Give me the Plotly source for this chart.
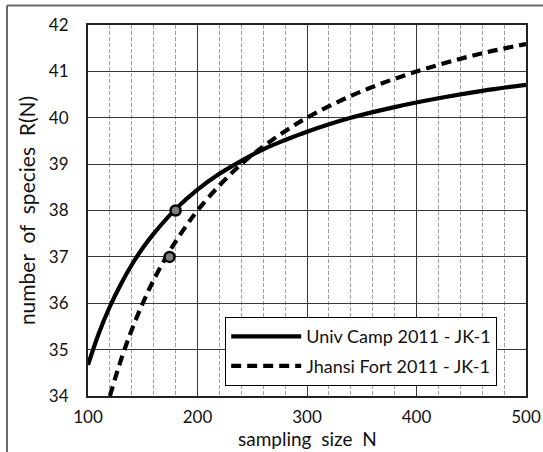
import plotly.graph_objects as go

# Data
univ_N = [100, 110, 120, 130, 140, 150, 160, 180, 200, 220, 240, 260, 280, 300, 340, 380, 420, 460, 500]
univ_R = [34.67, 35.36, 35.93, 36.41, 36.83, 37.19, 37.50, 38.03, 38.45, 38.79, 39.07, 39.32, 39.52, 39.70, 40.00, 40.23, 40.42, 40.58, 40.71]

jhansi_N = [120, 130, 140, 150, 160, 175, 190, 200, 220, 240, 260, 280, 300, 340, 380, 420, 460, 500]
jhansi_R = [34.00, 34.77, 35.43, 36.00, 36.50, 37.14, 37.68, 38.00, 38.54, 39.00, 39.38, 39.71, 40.00, 40.47, 40.84, 41.14, 41.39, 41.59]

marker_N = [180, 174.5]
marker_R = [38.0, 37.0]

series_names = ["Univ Camp 2011 - JK-1", "Jhansi Fort 2011 - JK-1"]
x_ticks = [100, 200, 300, 400, 500]
y_ticks = [34, 35, 36, 37, 38, 39, 40, 41, 42]
x_title = "sampling\u00a0 size\u00a0 N"
y_title = "number\u00a0 of\u00a0 species\u00a0 R(N)"

FONT = "Lato"

fig = go.Figure()
fig.add_trace(go.Scatter(x=univ_N, y=univ_R, mode="lines", name=series_names[0], legendgroup="a",
                         line=dict(color="black", width=4.2, shape="spline")))
fig.add_trace(go.Scatter(x=jhansi_N, y=jhansi_R, mode="lines", name=series_names[1], legendgroup="b",
                         line=dict(color="black", width=4.2, dash="10px,6px", shape="spline")))
fig.add_trace(go.Scatter(x=marker_N, y=marker_R, mode="markers", showlegend=False,
                         marker=dict(size=10, color="#808080", line=dict(color="black", width=2.5))))

L, R, T, B = 88, 17, 25, 56
W, H = 543, 452
pw, ph = W - L - R, H - T - B

def px_to_paper_x(px):
    return (px - L) / pw

def py_to_paper_y(py):
    return (H - B - py) / ph

fig.update_layout(
    width=W, height=H,
    margin=dict(l=L, r=R, t=T, b=B),
    paper_bgcolor="white", plot_bgcolor="white",
    font=dict(family=FONT, color="#111111"),
    showlegend=True,
    legend=dict(x=px_to_paper_x(225), y=py_to_paper_y(317), xanchor="left", yanchor="top",
                bgcolor="white", bordercolor="black", borderwidth=1.2,
                font=dict(family=FONT, size=18, color="#111111"),
                itemwidth=70, traceorder="grouped", tracegroupgap=3),
    shapes=[
        dict(type="line", xref="paper", yref="paper",
             x0=px_to_paper_x(7), x1=px_to_paper_x(543), y0=py_to_paper_y(5.5), y1=py_to_paper_y(5.5),
             line=dict(color="#6a6a6a", width=2)),
        dict(type="line", xref="paper", yref="paper",
             x0=px_to_paper_x(7), x1=px_to_paper_x(7), y0=py_to_paper_y(5.5), y1=py_to_paper_y(452),
             line=dict(color="#6a6a6a", width=2)),
    ],
    annotations=[
        dict(text=x_title, xref="paper", yref="paper", x=0.5, y=py_to_paper_y(451),
             xanchor="center", yanchor="bottom", showarrow=False, borderpad=0,
             font=dict(family=FONT, size=19, color="#111111")),
    ],
)

fig.update_xaxes(
    range=[100, 500], tickvals=x_ticks, ticktext=[str(v) for v in x_ticks],
    automargin=False,
    showgrid=True, gridcolor="#383838", gridwidth=1.4,
    minor=dict(dtick=20, showgrid=True, gridcolor="#a0a0a0", griddash="4px,2px", gridwidth=1),
    showline=True, linecolor="#222222", linewidth=2, mirror=True,
    ticks="", ticklabelstandoff=5, zeroline=False,
    tickfont=dict(family=FONT, size=17, color="#111111"),
)
fig.update_yaxes(
    range=[34, 42], tickvals=y_ticks, ticktext=[str(v) for v in y_ticks],
    automargin=False,
    showgrid=True, gridcolor="#383838", gridwidth=1.4,
    showline=True, linecolor="#222222", linewidth=2, mirror=True,
    ticks="", ticklabelstandoff=14, zeroline=False,
    tickfont=dict(family=FONT, size=17, color="#111111"),
    title=dict(text=y_title, font=dict(family=FONT, size=21, color="#111111"), standoff=8),
)

fig.write_html("out.html")
